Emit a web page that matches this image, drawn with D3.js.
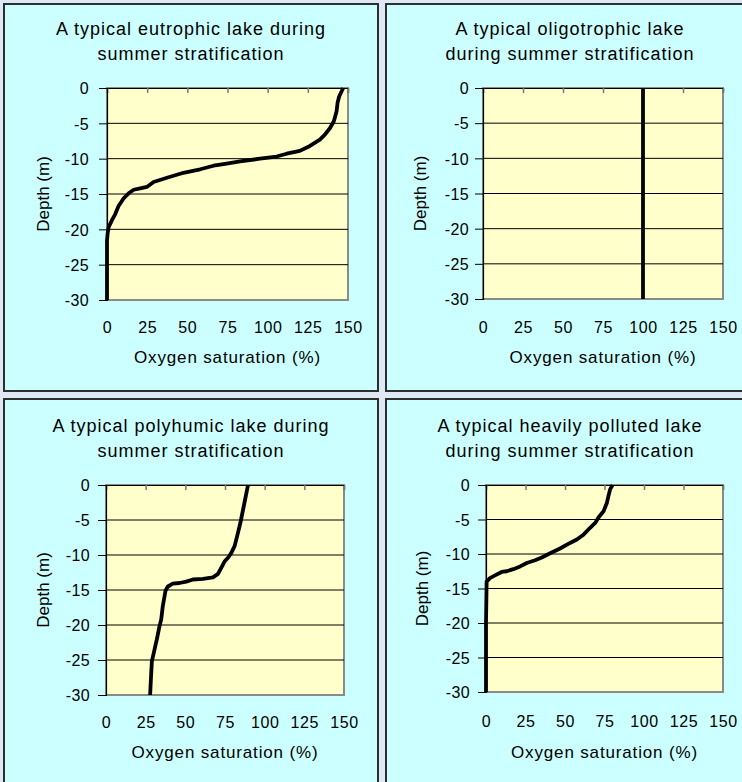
<!DOCTYPE html>
<html><head><meta charset="utf-8">
<script src="https://cdn.jsdelivr.net/npm/d3@7"></script>
<style>
body{margin:0;background:#dfe9f5;overflow:hidden}
svg{display:block}
text{font-family:"Liberation Sans",Arial,sans-serif;fill:#000}
</style>
</head><body>
<svg id="c" width="742" height="782"></svg>
<script>
// ---------- data ----------
const titleLines = [
  ["A typical eutrophic lake during", "summer stratification"],
  ["A typical oligotrophic lake", "during summer stratification"],
  ["A typical polyhumic lake during", "summer stratification"],
  ["A typical heavily polluted lake", "during summer stratification"]
];
const xAxisTitle = "Oxygen saturation (%)";
const yAxisTitle = "Depth (m)";
const satTicks = [0, 25, 50, 75, 100, 125, 150];
const depthTicks = [0, -5, -10, -15, -20, -25, -30];

const eutrophicSat =   [147, 144.5, 143.5, 142.9, 141.2, 138.7, 135.6, 132.5, 126.3, 120, 111.8, 105.6, 95.2, 82.8, 74.5, 66.3, 58, 47.6, 37.3, 29, 24.8, 20.7, 16.6, 13.5, 10.4, 7.2, 5.2, 3.1, 1, 0.4, 0, 0];
const eutrophicDepth = [0, -1.2, -2.1, -3.3, -4.7, -5.7, -6.6, -7.3, -8.2, -8.9, -9.3, -9.7, -10.0, -10.4, -10.7, -11.0, -11.5, -12.0, -12.7, -13.3, -14.0, -14.2, -14.4, -14.9, -15.6, -16.7, -17.8, -18.7, -19.7, -20.6, -21.6, -30];

const oligotrophicSat =   [100, 100, 100, 100, 100, 100, 100];
const oligotrophicDepth = [0, -5, -10, -15, -20, -25, -30];

const polyhumicSat =   [89.5, 88.1, 86.4, 84.7, 83.2, 81.1, 79, 76.9, 74.8, 72.7, 70.6, 67.4, 61.1, 54.8, 50.6, 46.3, 42.1, 39, 37.5, 36.9, 35.8, 34.8, 33.7, 32, 29.9, 28.9, 28.4, 27.8];
const polyhumicDepth = [0, -1.6, -3.5, -5.4, -6.8, -8.7, -9.7, -10.4, -10.9, -11.8, -12.7, -13.2, -13.4, -13.5, -13.8, -14.0, -14.1, -14.5, -15.1, -15.9, -17.3, -19.2, -20.2, -22.1, -24.2, -25.2, -27.3, -30];

const pollutedSat =   [80.1, 78.6, 77.5, 76.5, 74.4, 71.2, 69.1, 65.9, 61.7, 57.5, 53.2, 46.9, 40.6, 35.3, 31.1, 25.8, 21.6, 17.3, 13.1, 9.9, 5.7, 2.5, 0.4, 0, 0];
const pollutedDepth = [0, -0.6, -1.6, -2.6, -3.8, -4.7, -5.5, -6.2, -7.2, -7.9, -8.4, -9.2, -9.9, -10.5, -10.9, -11.3, -11.8, -12.2, -12.5, -12.6, -13.1, -13.5, -14.0, -20, -30];

const seriesSat = [eutrophicSat, oligotrophicSat, polyhumicSat, pollutedSat];
const seriesDepth = [eutrophicDepth, oligotrophicDepth, polyhumicDepth, pollutedDepth];

// ---------- layout ----------
const layout = [
  {px:4,   py:4,   pw:374, ph:387, x0:107, x1:348, y0:88,  y1:300, t1:35,  t2:60,  tx:191, xl:333, xt:363, yl:89,  yt:49},
  {px:386, py:4,   pw:380, ph:387, x0:483, x1:723, y0:88,  y1:299, t1:35,  t2:60,  tx:570, xl:333, xt:363, yl:469, yt:426},
  {px:4,   py:399, pw:374, ph:400, x0:106, x1:344, y0:485, y1:695, t1:432, t2:457, tx:191, xl:728, xt:758, yl:90,  yt:49},
  {px:386, py:399, pw:380, ph:400, x0:486, x1:723, y0:485, y1:692, t1:432, t2:457, tx:570, xl:727, xt:758, yl:470, yt:428}
];

const svg = d3.select("#c");

layout.forEach((L, i) => {
  const g = svg.append("g");
  g.append("rect").attr("x", L.px).attr("y", L.py).attr("width", L.pw).attr("height", L.ph)
    .attr("fill", "#ccffff").attr("stroke", "#2e2e2e").attr("stroke-width", 2);

  titleLines[i].forEach((t, k) => {
    g.append("text").attr("x", L.tx).attr("y", k === 0 ? L.t1 : L.t2)
      .attr("text-anchor", "middle").style("font-size", "18px").style("letter-spacing", "1px").text(t);
  });

  const x = d3.scaleLinear().domain([0, 150]).range([L.x0, L.x1]);
  const y = d3.scaleLinear().domain([0, -30]).range([L.y0, L.y1]);

  g.append("rect").attr("x", L.x0).attr("y", L.y0).attr("width", L.x1 - L.x0).attr("height", L.y1 - L.y0)
    .attr("fill", "#ffffcc").attr("stroke", "#8a8a8a").attr("stroke-width", 2);

  g.append("g").selectAll("line").data(depthTicks.filter(d => d !== 0 && d !== -30)).join("line")
    .attr("x1", L.x0).attr("x2", L.x1).attr("y1", d => y(d)).attr("y2", d => y(d))
    .attr("stroke", "#000").attr("stroke-width", 1);

  const topAx = g.append("g").attr("transform", `translate(0,${L.y0})`)
    .call(d3.axisBottom(x).tickValues(satTicks).tickSize(5).tickFormat(""));
  topAx.select(".domain").attr("stroke", "#000").attr("stroke-width", 1.2);
  topAx.selectAll(".tick line").attr("stroke", "#777").attr("stroke-width", 1.5);

  const botAx = g.append("g").attr("transform", `translate(0,${L.xl})`)
    .call(d3.axisBottom(x).tickValues(satTicks).tickSize(0).tickFormat(d => String(d)));
  botAx.select(".domain").remove();
  botAx.attr("font-size", null);
  botAx.selectAll("text").attr("y", 0).attr("dy", 0)
    .attr("font-size", 16).style("font-size", "16px").style("letter-spacing", "0.6px");

  const leftAx = g.append("g").attr("transform", `translate(${L.x0},0)`)
    .call(d3.axisLeft(y).tickValues(depthTicks).tickSize(8).tickPadding(10).tickFormat(d => String(d)));
  leftAx.attr("font-size", null);
  leftAx.select(".domain").attr("stroke", "#000").attr("stroke-width", 1.2);
  leftAx.selectAll(".tick line").attr("stroke", "#000").attr("stroke-width", 1);
  leftAx.selectAll("text").attr("x", L.yl - L.x0).attr("dy", "0.36em")
    .attr("font-size", 16).style("font-size", "16px").style("letter-spacing", "0.4px");

  g.append("text").attr("x", (L.x0 + L.x1) / 2).attr("y", L.xt).attr("text-anchor", "middle")
    .style("font-size", "17px").style("letter-spacing", "0.85px").text(xAxisTitle);
  g.append("text").attr("transform", `translate(${L.yt},${(L.y0 + L.y1) / 2}) rotate(-90)`)
    .attr("text-anchor", "middle").style("font-size", "17px").text(yAxisTitle);

  const pts = seriesSat[i].map((s, k) => [s, seriesDepth[i][k]]);
  const line = d3.line().x(d => x(d[0])).y(d => y(d[1])).curve(d3.curveLinear);
  g.append("path").attr("d", line(pts)).attr("fill", "none").attr("stroke", "#000")
    .attr("stroke-width", 3.8).attr("stroke-linejoin", "round").attr("stroke-linecap", "butt");
});
</script>
</body></html>
